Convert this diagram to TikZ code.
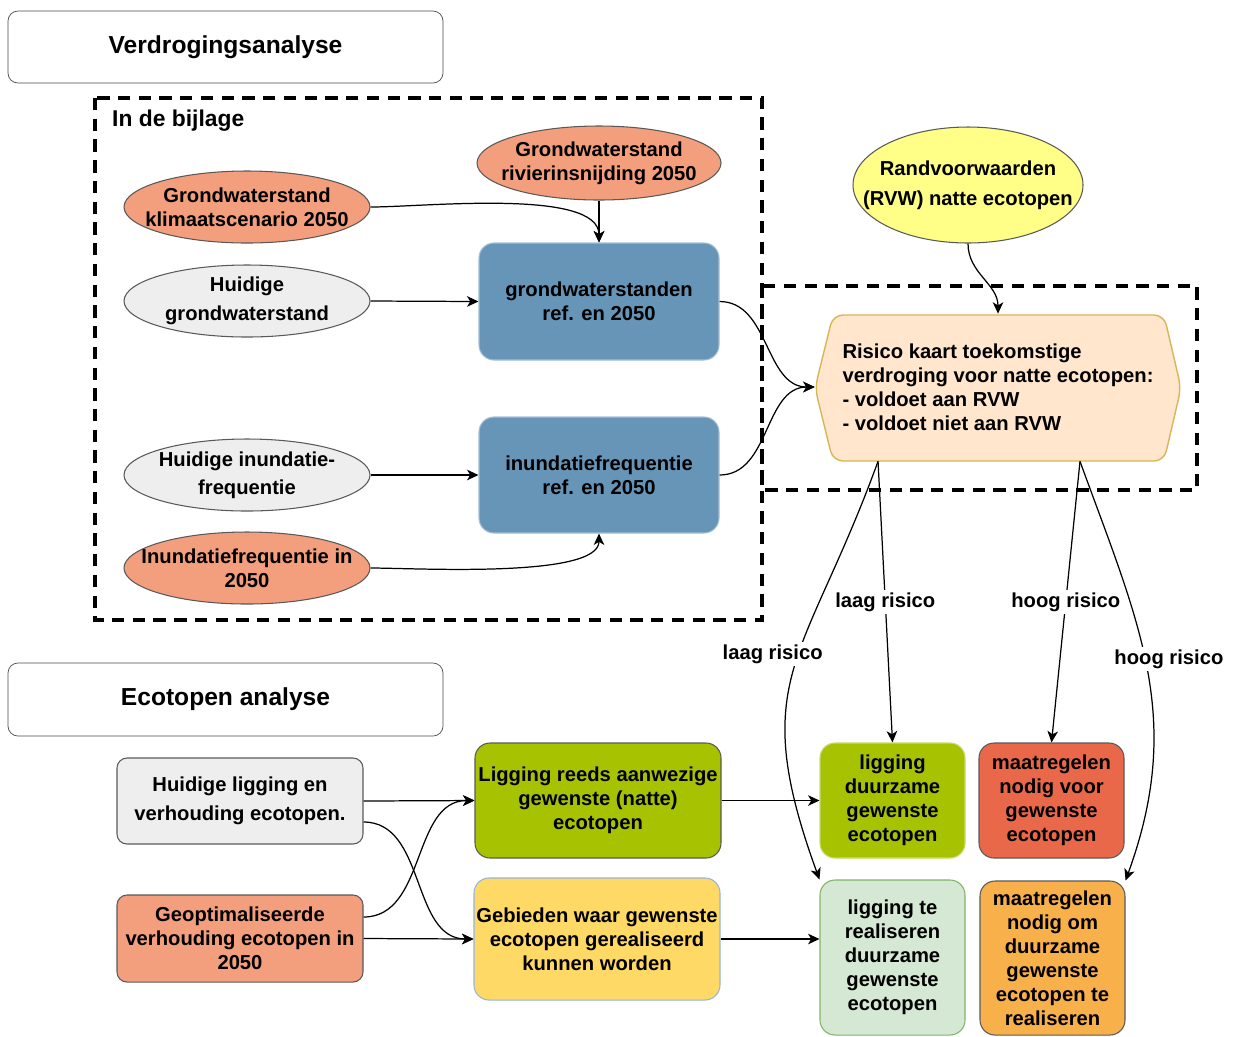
\documentclass[tikz,border=0pt]{standalone}
\usepackage{fontspec}
\setmainfont{Liberation Sans}
\usetikzlibrary{arrows.meta,shapes.geometric}

\definecolor{zalm}{RGB}{243,159,125}
\definecolor{lichtgrijs}{RGB}{238,238,238}
\definecolor{staal}{RGB}{103,149,183}
\definecolor{citroen}{RGB}{255,255,136}
\definecolor{perzik}{RGB}{255,230,204}
\definecolor{goud}{RGB}{214,182,86}
\definecolor{olijf}{RGB}{167,194,0}
\definecolor{steen}{RGB}{234,104,74}
\definecolor{mint}{RGB}{213,232,212}
\definecolor{mintrand}{RGB}{130,179,102}
\definecolor{zon}{RGB}{255,217,102}
\definecolor{zonrand}{RGB}{150,180,220}
\definecolor{oranje}{RGB}{248,176,75}

\tikzset{
  sz/.style 2 args={minimum width=#1*0.02cm,minimum height=#2*0.02cm},
  kop/.style={draw=black!70,fill=white,rounded corners=0.2cm,font=\bfseries\fontsize{14}{16}\selectfont},
  ovaal/.style={ellipse,draw=black!65,line width=0.6pt,inner sep=0pt},
  blok/.style={draw=black!65,line width=0.6pt,rounded corners=0.3cm,align=center,inner sep=1pt},
  kader/.style={line width=2pt,dash pattern=on 7pt off 4.8pt},
  pijl/.style={->,line width=0.7pt},
  lbl/.style={fill=white,inner sep=1.5pt}
}

\begin{document}
\begin{tikzpicture}[x=0.02cm,y=-0.02cm,>={Stealth[length=6.5pt,width=6pt,inset=1.8pt]},
  font=\bfseries\fontsize{11.5}{13.7}\selectfont]
  \useasboundingbox (0,0) rectangle (1239,1036);

  % kaders
  \draw[kader] (95,98) rectangle (762,620);
  \draw[kader] (762,286) rectangle (1197,490);

  % verdroging
  \node[kop,sz={435}{72}] (verdr) at (225.5,47) {Verdrogingsanalyse};
  \node[anchor=west,font=\bfseries\fontsize{13}{15}\selectfont] (bijlage) at (106,121) {In de bijlage};

  \node[ovaal,fill=zalm,sz={244}{74},label={[align=center]center:Grondwaterstand\\rivierinsnijding 2050}] (rivier) at (599,163) {};
  \node[ovaal,fill=zalm,sz={246}{72},label={[align=center]center:Grondwaterstand\\klimaatscenario 2050}] (klim) at (247,207) {};
  \node[ovaal,fill=lichtgrijs,sz={246}{72},label={[align=center]center:Huidige\\[3pt]grondwaterstand}] (huidgw) at (247,301) {};
  \node[ovaal,fill=lichtgrijs,sz={246}{72},label={[align=center]center:Huidige inundatie-\\[2.5pt]frequentie}] (huidinun) at (247,475) {};
  \node[ovaal,fill=zalm,sz={246}{72},label={[align=center]center:Inundatiefrequentie in\\2050}] (inun2050) at (247,568) {};

  \node[blok,fill=staal,draw=staal!60!white,sz={240}{117}] (gws) at (599,301.5) {grondwaterstanden\\ref. en 2050};
  \node[blok,fill=staal,draw=staal!60!white,sz={240}{116}] (ifr) at (599,475) {inundatiefrequentie\\ref. en 2050};

  \node[ovaal,fill=citroen,sz={230}{116},label={[align=center]center:Randvoorwaarden\\[3.5pt](RVW) natte ecotopen}] (rvw) at (968,185) {};

  \draw[fill=perzik,draw=goud,line width=0.8pt,rounded corners=0.2cm]
    (833,315) -- (1164,315) -- (1181,388) -- (1164,461) -- (833,461) -- (815,388) -- cycle;
  \node[sz={366}{146},align=left,inner sep=0pt] (risico) at (998,387)
    {Risico kaart toekomstige\\verdroging voor natte ecotopen:\\- voldoet aan RVW\\- voldoet niet aan RVW};

  % ecotopen
  \node[kop,sz={435}{73}] (eco) at (225.5,699.5) {Ecotopen analyse};

  \node[blok,fill=lichtgrijs,rounded corners=0.2cm,sz={246}{86}] (huidlig) at (240,801) {Huidige ligging en\\[2.5pt]verhouding ecotopen.};
  \node[blok,fill=zalm,rounded corners=0.2cm,sz={246}{87}] (geopt) at (240,938.5) {Geoptimaliseerde\\verhouding ecotopen in\\2050};
  \node[blok,fill=olijf,sz={246}{115}] (reeds) at (598,800.5) {Ligging reeds aanwezige\\gewenste (natte)\\ecotopen};
  \node[blok,fill=zon,draw=zonrand,sz={246}{122}] (gebied) at (597,939) {Gebieden waar gewenste\\ecotopen gerealiseerd\\kunnen worden};

  \node[blok,fill=olijf,draw=olijf!60!white,sz={145}{115}] (duurz) at (892.5,800.5) {ligging\\duurzame\\gewenste\\ecotopen};
  \node[blok,fill=steen,sz={145}{115}] (maatrvoor) at (1051.5,800.5) {maatregelen\\nodig voor\\gewenste\\ecotopen};
  \node[blok,fill=mint,draw=mintrand,sz={145}{155}] (realiseer) at (892.5,957.5) {ligging te\\realiseren\\duurzame\\gewenste\\ecotopen};
  \node[blok,fill=oranje,sz={145}{154}] (maatrom) at (1052.5,958) {maatregelen\\nodig om\\duurzame\\gewenste\\ecotopen te\\realiseren};

  % pijlen
  \draw[pijl] (klim.east) to[out=0,in=90,looseness=0.6] (gws.north);
  \draw[pijl] (rivier.south) -- (gws.north);
  \draw[pijl] (huidgw.east) -- (gws.west);
  \draw[pijl] (huidinun.east) -- (ifr.west);
  \draw[pijl] (inun2050.east) to[out=0,in=-90,looseness=0.5] (ifr.south);
  \draw[pijl] (gws.east) to[out=0,in=180] (risico.west);
  \draw[pijl] (ifr.east) to[out=0,in=180] (risico.west);
  \draw[pijl] (rvw.south) to[out=-90,in=90] (risico.north);

  \coordinate (laaguit) at ([xshift=-2.4cm,yshift=-0.02cm]risico.south);
  \coordinate (hooguit) at ([xshift=1.64cm,yshift=-0.02cm]risico.south);
  \draw[pijl] (laaguit) -- node[lbl] {laag risico} (duurz.north);
  \draw[pijl] (laaguit) to[out=-110,in=110,looseness=1.3]
    node[lbl,pos=0.45,xshift=-0.52cm] {laag risico} (realiseer.north west);
  \draw[pijl] (hooguit) -- node[lbl] {hoog risico} (maatrvoor.north);
  \draw[pijl] (hooguit) to[out=-70,in=70,looseness=1.05]
    node[lbl,pos=0.47,xshift=0.48cm] {hoog risico} (maatrom.north east);

  \draw[pijl] (huidlig.east) -- (reeds.west);
  \draw[pijl] ([yshift=-0.42cm]huidlig.east) to[out=0,in=180] (gebied.west);
  \draw[pijl] ([yshift=0.43cm]geopt.east) to[out=0,in=180] (reeds.west);
  \draw[pijl] (geopt.east) -- (gebied.west);
  \draw[pijl] (reeds.east) -- (duurz.west);
  \draw[pijl] (gebied.east) -- (gebied.east -| realiseer.west);
\end{tikzpicture}
\end{document}
